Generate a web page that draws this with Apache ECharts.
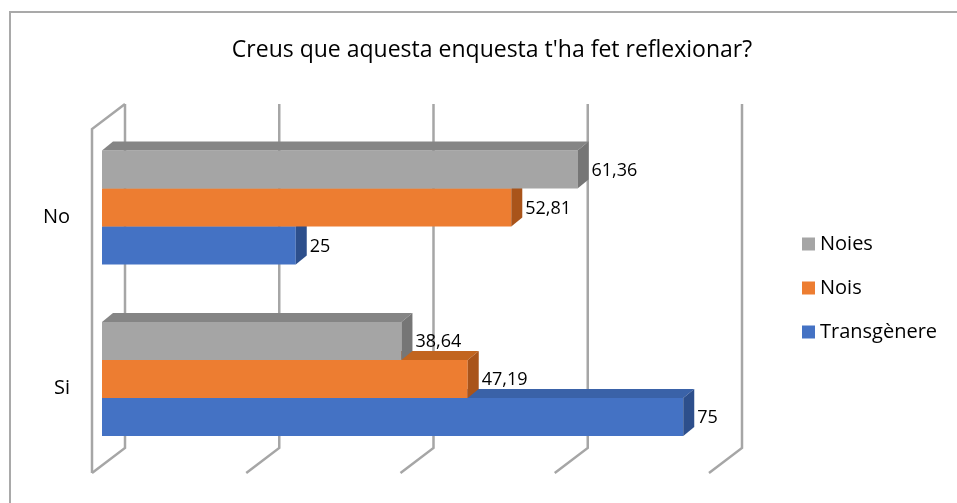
<!DOCTYPE html>
<html>
<head>
<meta charset="utf-8">
<script src="https://cdn.jsdelivr.net/npm/echarts@6/dist/echarts.min.js"></script>
<style>
  html, body { margin: 0; padding: 0; background: #fff; }
  #main { width: 957px; height: 503px; }
</style>
</head>
<body>
<div id="main"></div>
<script>
var categories = ['No', 'Si'];
var noies = [61.36, 38.64];
var nois = [52.81, 47.19];
var transgenere = [25, 75];
var ticks = [0, 20, 40, 60, 80];

var chart = echarts.init(document.getElementById('main'));

// profunditat de les barres 3D
var DX = 11, DY = 9;

function toData(vals) {
  return categories.map(function (c, i) { return [vals[i], i]; });
}

function fmt(v) {
  return String(v).replace('.', ',');
}

// slot: -1 a dalt, 0 al mig, 1 a baix
function barItem(slot, front, top, side) {
  return function (params, api) {
    var v = api.value(0), cat = api.value(1);
    var p0 = api.coord([0, cat]);
    var p1 = api.coord([v, cat]);
    var band = api.size([0, 1])[1];
    var h = band * 0.2216;
    var x0 = p0[0], x1 = p1[0];
    var y = p0[1] + slot * h - h / 2;
    return {
      type: 'group',
      children: [
        { type: 'rect', shape: { x: x0, y: y, width: x1 - x0, height: h },
          style: { fill: front } },
        { type: 'polygon', shape: { points: [[x0, y], [x1, y], [x1 + DX, y - DY], [x0 + DX, y - DY]] },
          style: { fill: top } },
        { type: 'polygon', shape: { points: [[x1, y], [x1 + DX, y - DY], [x1 + DX, y + h - DY], [x1, y + h]] },
          style: { fill: side } },
        { type: 'text', z2: 10,
          style: { text: fmt(v), x: x1 + DX + 3, y: y + h / 2 + 1, fill: '#000',
            font: '18px "Open Sans"', align: 'left', verticalAlign: 'middle' } }
      ]
    };
  };
}

function wallItem(params, api) {
  var cs = params.coordSys;
  var p = api.coord([api.value(0), 0]);
  var x = p[0], t = cs.y, b = cs.y + cs.height;
  var ls = { stroke: '#a6a6a6', lineWidth: 2.5, fill: null };
  var kids = [
    { type: 'polyline', shape: { points: [[x, t], [x, b], [x - 33, b + 25]] }, style: ls }
  ];
  if (params.dataIndex === 0) {
    kids.push({ type: 'polyline', shape: { points: [[x, t], [x - 33, t + 25], [x - 33, b + 25]] }, style: ls });
  }
  return { type: 'group', children: kids };
}

var option = {
  backgroundColor: '#fff',
  title: {
    text: "Creus que aquesta enquesta t'ha fet reflexionar?",
    left: 487,
    top: 34,
    textAlign: 'center',
    textStyle: { fontFamily: 'Open Sans', fontSize: 23, fontWeight: 'normal', color: '#000' }
  },
  legend: {
    data: ['Noies', 'Nois', 'Transgènere'],
    orient: 'vertical',
    left: 797,
    top: 227,
    icon: 'rect',
    itemWidth: 13,
    itemHeight: 13,
    itemGap: 20,
    textStyle: { fontFamily: 'Open Sans', fontSize: 20, color: '#000', lineHeight: 24 }
  },
  graphic: [{
    type: 'rect',
    silent: true,
    shape: { x: 10, y: 12, width: 960, height: 500 },
    style: { fill: null, stroke: '#a9a9a9', lineWidth: 2 }
  }],
  grid: [
    { left: 102, top: 121.75, width: 620, height: 343 },
    { left: 125, top: 104, width: 617, height: 344 }
  ],
  xAxis: [
    { gridIndex: 0, type: 'value', min: 0, max: 80, show: false },
    { gridIndex: 1, type: 'value', min: 0, max: 80, show: false }
  ],
  yAxis: [
    { gridIndex: 0, type: 'category', data: categories, inverse: true,
      axisLine: { show: false }, axisTick: { show: false }, splitLine: { show: false },
      axisLabel: { margin: 32, fontFamily: 'Open Sans', fontSize: 20, color: '#000',
        verticalAlign: 'top', lineHeight: 19 } },
    { gridIndex: 1, type: 'value', min: 0, max: 1, show: false }
  ],
  series: [
    { type: 'custom', name: 'wall', xAxisIndex: 1, yAxisIndex: 1, silent: true, z: 1,
      data: ticks.map(function (t) { return [t, 0]; }), encode: { x: 0, y: 1 },
      renderItem: wallItem },
    { type: 'custom', name: 'Transgènere', itemStyle: { color: '#4472C4' }, z: 2,
      data: toData(transgenere), encode: { x: 0, y: 1 },
      renderItem: barItem(1, '#4472C4', '#3A62A8', '#2D4F8C') },
    { type: 'custom', name: 'Nois', itemStyle: { color: '#ED7D31' }, z: 2,
      data: toData(nois), encode: { x: 0, y: 1 },
      renderItem: barItem(0, '#ED7D31', '#C2651F', '#A9541A') },
    { type: 'custom', name: 'Noies', itemStyle: { color: '#A5A5A5' }, z: 2,
      data: toData(noies), encode: { x: 0, y: 1 },
      renderItem: barItem(-1, '#A5A5A5', '#858585', '#767676') }
  ]
};

chart.setOption(option);
</script>
</body>
</html>
